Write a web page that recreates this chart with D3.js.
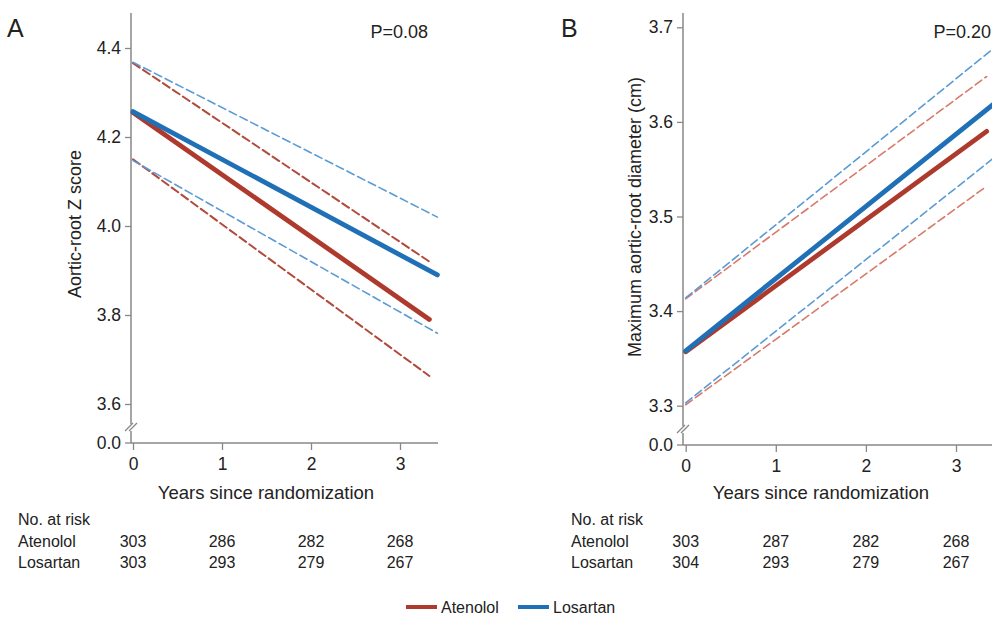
<!DOCTYPE html>
<html lang="en">
<head>
    <meta charset="UTF-8">
    <title>Aortic-root Z score and diameter</title>
    <script src="https://d3js.org/d3.v7.min.js"></script>
    <style>
        body { margin: 0; background: #fff; }
        svg { font-family: 'Liberation Sans', Arial, sans-serif; }
        .tick text { font-size: 17.5px; fill: #222; }
        .tick line { stroke: #888; stroke-width: 1.3; }
    </style>
</head>
<body>
<div id="chart"></div>
<script>
    // years on x axis
    const years = [0, 1, 2, 3];

    // panel A: aortic-root Z score, [year, value] at start and end of each fit
    const zAtenolol = [[0, 4.255], [3.33, 3.79]];
    const zAtenololLo = [[0, 4.150], [3.33, 3.663]];
    const zAtenololHi = [[0, 4.366], [3.33, 3.92]];
    const zLosartan = [[0, 4.257], [3.42, 3.89]];
    const zLosartanLo = [[0, 4.147], [3.42, 3.759]];
    const zLosartanHi = [[0, 4.368], [3.42, 4.02]];
    const zTicks = [3.6, 3.8, 4.0, 4.2, 4.4];

    // panel B: maximum aortic-root diameter (cm)
    const dAtenolol = [[0, 3.357], [3.34, 3.59]];
    const dAtenololLo = [[0, 3.301], [3.34, 3.532]];
    const dAtenololHi = [[0, 3.413], [3.34, 3.648]];
    const dLosartan = [[0, 3.358], [3.42, 3.619]];
    const dLosartanLo = [[0, 3.303], [3.42, 3.562]];
    const dLosartanHi = [[0, 3.414], [3.42, 3.678]];
    const dTicks = [3.3, 3.4, 3.5, 3.6, 3.7];

    // numbers at risk
    const riskA = { Atenolol: [303, 286, 282, 268], Losartan: [303, 293, 279, 267] };
    const riskB = { Atenolol: [303, 287, 282, 268], Losartan: [304, 293, 279, 267] };

    const groups = ['Atenolol', 'Losartan'];
    const colors = { Atenolol: '#ad3a2c', Losartan: '#1f70b6' };

    const svg = d3.select('#chart').append('svg')
        .attr('width', 992)
        .attr('height', 618);

    function drawPanel(cfg) {
        const x = d3.scaleLinear().domain([0, 3]).range(cfg.xRange);
        const y = d3.scaleLinear().domain(cfg.yDomain).range(cfg.yRange);
        const g = svg.append('g');
        const axisColor = '#888';

        // y axis with break
        const yAxis = g.append('g')
            .attr('transform', `translate(${cfg.axisX},0)`)
            .call(d3.axisLeft(y).tickValues(cfg.ticks).tickFormat(d3.format('.1f')).tickSize(6).tickPadding(4));
        yAxis.select('.domain').remove();

        const breakY = cfg.xAxisY - 16;
        g.append('line').attr('x1', cfg.axisX).attr('x2', cfg.axisX)
            .attr('y1', 13).attr('y2', breakY - 3)
            .attr('stroke', axisColor).attr('stroke-width', 1.5);
        g.append('line').attr('x1', cfg.axisX).attr('x2', cfg.axisX)
            .attr('y1', breakY + 4).attr('y2', cfg.xAxisY)
            .attr('stroke', axisColor).attr('stroke-width', 1.5);
        [-2, 2].forEach(off => {
            g.append('line')
                .attr('x1', cfg.axisX - 4 + off).attr('y1', breakY + 4)
                .attr('x2', cfg.axisX + 4 + off).attr('y2', breakY - 4)
                .attr('stroke', axisColor).attr('stroke-width', 1.2);
        });

        // 0.0 tick at the bottom
        g.append('line').attr('x1', cfg.axisX - 6).attr('x2', cfg.axisX)
            .attr('y1', cfg.xAxisY).attr('y2', cfg.xAxisY)
            .attr('stroke', axisColor).attr('stroke-width', 1.3);
        g.append('text')
            .attr('x', cfg.axisX - 10).attr('y', cfg.xAxisY)
            .attr('dy', '0.32em')
            .attr('text-anchor', 'end')
            .style('font-size', '17.5px').style('fill', '#222')
            .text('0.0');

        // x axis
        const xAxis = g.append('g')
            .attr('transform', `translate(0,${cfg.xAxisY})`)
            .call(d3.axisBottom(x).tickValues(years).tickFormat(d3.format('d')).tickSize(7).tickPadding(8));
        xAxis.select('.domain').remove();
        g.append('line').attr('x1', cfg.axisX).attr('x2', cfg.xAxisEnd)
            .attr('y1', cfg.xAxisY).attr('y2', cfg.xAxisY)
            .attr('stroke', axisColor).attr('stroke-width', 1.5);

        // fitted lines
        const line = d3.line().x(d => x(d[0])).y(d => y(d[1]));
        cfg.dashed.forEach(s => {
            g.append('path').datum(s.data)
                .attr('d', line)
                .attr('fill', 'none')
                .attr('stroke', s.color)
                .attr('stroke-width', s.width)
                .attr('stroke-dasharray', '8,4')
                .attr('stroke-linecap', 'round');
        });
        cfg.solid.forEach(s => {
            g.append('path').datum(s.data)
                .attr('d', line)
                .attr('fill', 'none')
                .attr('stroke', colors[s.name])
                .attr('stroke-width', 4.8)
                .attr('stroke-linecap', 'round');
        });

        // labels
        g.append('text')
            .attr('x', cfg.letterX).attr('y', 37)
            .style('font-size', '25px').style('fill', '#222')
            .text(cfg.letter);
        g.append('text')
            .attr('x', cfg.pX).attr('y', 38)
            .attr('text-anchor', 'end')
            .style('font-size', '18px').style('fill', '#222')
            .text(cfg.pText);
        g.append('text')
            .attr('transform', `translate(${cfg.yTitleX},${cfg.yTitleY}) rotate(-90)`)
            .attr('text-anchor', 'middle')
            .style('font-size', '18px').style('fill', '#222')
            .text(cfg.yTitle);
        g.append('text')
            .attr('x', cfg.xTitleX).attr('y', 499)
            .attr('text-anchor', 'middle')
            .style('font-size', '18.5px').style('fill', '#222')
            .text('Years since randomization');

        // numbers at risk table
        g.append('text')
            .attr('x', cfg.tableX).attr('y', 525)
            .style('font-size', '16px').style('fill', '#222')
            .text('No. at risk');
        groups.forEach((name, r) => {
            const rowY = 547 + r * 21;
            g.append('text')
                .attr('x', cfg.tableX).attr('y', rowY)
                .style('font-size', '16px').style('fill', '#222')
                .text(name);
            g.selectAll(null)
                .data(cfg.risk[name])
                .enter()
                .append('text')
                .attr('x', (d, i) => x(years[i]))
                .attr('y', rowY)
                .attr('text-anchor', 'middle')
                .style('font-size', '16px').style('fill', '#222')
                .text(d => d);
        });
    }

    drawPanel({
        letter: 'A', letterX: 7, pText: 'P=0.08', pX: 428,
        xRange: [133, 400], yDomain: [3.6, 4.4], yRange: [404, 48],
        axisX: 131, xAxisY: 443, xAxisEnd: 438, ticks: zTicks,
        yTitle: 'Aortic-root Z score', yTitleX: 81, yTitleY: 224,
        xTitleX: 266, tableX: 18, risk: riskA,
        dashed: [
            { data: zAtenololHi, color: '#b24a3c', width: 2 },
            { data: zAtenololLo, color: '#b24a3c', width: 2 },
            { data: zLosartanHi, color: '#5b9bd5', width: 1.6 },
            { data: zLosartanLo, color: '#5b9bd5', width: 1.6 }
        ],
        solid: [
            { name: 'Atenolol', data: zAtenolol },
            { name: 'Losartan', data: zLosartan }
        ]
    });

    drawPanel({
        letter: 'B', letterX: 561, pText: 'P=0.20', pX: 991,
        xRange: [685.7, 956], yDomain: [3.3, 3.7], yRange: [405.7, 27.3],
        axisX: 683, xAxisY: 445, xAxisEnd: 992, ticks: dTicks,
        yTitle: 'Maximum aortic-root diameter (cm)', yTitleX: 641, yTitleY: 217,
        xTitleX: 821, tableX: 571, risk: riskB,
        dashed: [
            { data: dAtenololHi, color: '#d77a6c', width: 1.6 },
            { data: dAtenololLo, color: '#d77a6c', width: 1.6 },
            { data: dLosartanHi, color: '#5b9bd5', width: 1.6 },
            { data: dLosartanLo, color: '#5b9bd5', width: 1.6 }
        ],
        solid: [
            { name: 'Atenolol', data: dAtenolol },
            { name: 'Losartan', data: dLosartan }
        ]
    });

    // legend
    const legend = svg.append('g')
        .selectAll('g')
        .data(groups)
        .enter()
        .append('g')
        .attr('transform', (d, i) => `translate(${406 + i * 112},607)`);
    legend.append('line')
        .attr('x1', 0).attr('x2', 31)
        .attr('stroke', d => colors[d])
        .attr('stroke-width', 4);
    legend.append('text')
        .attr('x', 35).attr('dy', '0.35em')
        .style('font-size', '16px').style('fill', '#222')
        .text(d => d);
</script>
</body>
</html>
